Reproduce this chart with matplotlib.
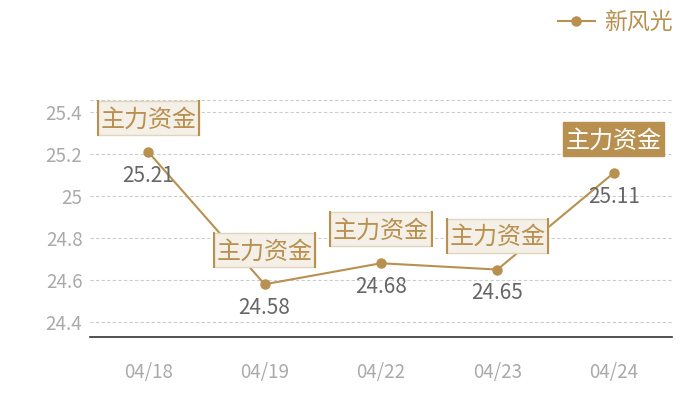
import matplotlib
matplotlib.use("Agg")
import matplotlib.pyplot as plt
from matplotlib.lines import Line2D
from matplotlib.patches import Rectangle
from matplotlib.ticker import FuncFormatter

plt.rcParams['font.family'] = ['Noto Sans CJK SC', 'DejaVu Sans']

# data
dates = ['04/18', '04/19', '04/22', '04/23', '04/24']
prices = [25.21, 24.58, 24.68, 24.65, 25.11]
tag = '主力资金'
series_name = '新风光'
yticks = [24.4, 24.6, 24.8, 25.0, 25.2, 25.4]

gold = '#b8904f'
gray_tick = '#aaaaaa'
W, H = 700, 400

fig = plt.figure(figsize=(7, 4), dpi=100)
ax = fig.add_axes([90 / W, 63 / H, 582 / W, 237 / H])

x = list(range(len(dates)))
ax.plot(x, prices, color=gold, lw=1.5, marker='o', ms=6.5, zorder=3,
        label=series_name)

ax.set_xlim(-0.5, len(dates) - 0.5)
ax.set_ylim(24.329, 25.457)
ax.set_xticks(x)
ax.set_xticklabels(dates)
ax.set_yticks(yticks)
ax.yaxis.set_major_formatter(FuncFormatter(lambda v, p: '%g' % round(v, 2)))
ax.tick_params(axis='both', length=0, colors=gray_tick, labelsize=13.5)
ax.tick_params(axis='x', pad=18)
ax.tick_params(axis='y', pad=5.5)

ax.grid(axis='y', color='#cccccc', ls=(0, (3, 2)), lw=0.8)
ax.axhline(25.457, color='#cccccc', ls=(0, (3, 2)), lw=0.8)
for s in ['top', 'right', 'left']:
    ax.spines[s].set_visible(False)
ax.spines['bottom'].set_color('#333333')
ax.spines['bottom'].set_linewidth(1.2)

# value labels under points, tag boxes above
bw, bh, lift = 101, 34, 34
for i, v in enumerate(prices):
    ax.annotate('%.2f' % v, (i, v), xytext=(0, -17), textcoords='offset points',
                ha='center', va='center', fontsize=15, color='#666666', zorder=4)
    last = i == len(prices) - 1
    px, py = ax.transData.transform((i, v))
    cx, cy = px / W, (py + lift) / H
    fig.add_artist(Rectangle((cx - bw / 2 / W, cy - bh / 2 / H), bw / W, bh / H,
                             transform=fig.transFigure,
                             fc=gold if last else '#f4efe7',
                             ec=gold if last else '#e2d5bd', lw=1, zorder=5))
    if not last:
        for xe in (cx - bw / 2 / W, cx + bw / 2 / W):
            fig.add_artist(Line2D([xe, xe], [cy - bh / 2 / H, cy + bh / 2 / H],
                                  color=gold, lw=1.5, zorder=6))
    fig.text(cx, cy - 1.5 / H, tag, ha='center', va='center', fontsize=17.3,
             color='white' if last else gold, zorder=7)

leg = fig.legend(loc='upper right', bbox_to_anchor=(0.99, 1.025), frameon=False,
                 fontsize=16.5, handlelength=1.6, handletextpad=0.4)
for txt in leg.get_texts():
    txt.set_color(gold)

fig.savefig('out.png', dpi=100)
